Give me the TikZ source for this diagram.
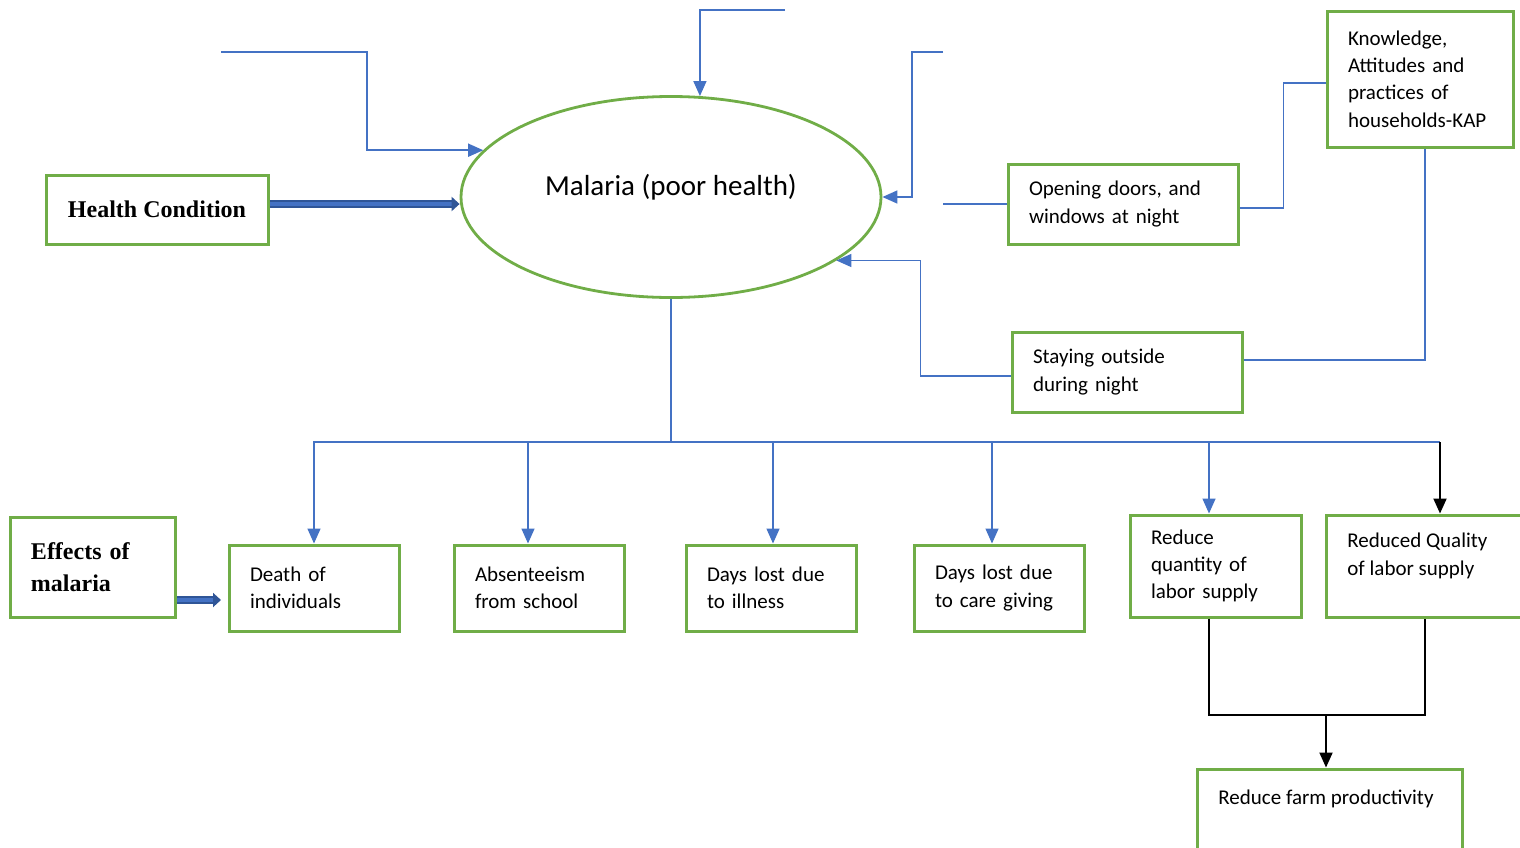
\documentclass[tikz,border=0pt]{standalone}
\usepackage{fontspec}
\setmainfont{Carlito}
\newfontfamily\timesbf{Liberation Serif}
\usetikzlibrary{positioning, shapes.geometric, arrows.meta}

\definecolor{boxgreen}{HTML}{70AD47}
\definecolor{linkblue}{HTML}{4472C4}
\definecolor{fatblue}{HTML}{2F5597}

\begin{document}
\begin{tikzpicture}[
    x=0.5pt, y=-0.5pt,
    box/.style={rectangle, draw=boxgreen, line width=1.5pt, inner xsep=10.5pt, inner ysep=0pt, align=left, font=\fontsize{10.5}{13.6}\selectfont},
    headbox/.style={box, align=center, font=\timesbf\bfseries\fontsize{12}{16}\selectfont},
    boxtext/.style={inner sep=0pt, align=left, anchor=north west, font=\fontsize{10.5}{13.6}\selectfont},
    flow/.style={draw=linkblue, line width=0.75pt},
    flowarrow/.style={flow, -{Triangle[length=7.5pt, width=6.5pt]}},
    blackline/.style={draw=black, line width=1pt},
    blackarrow/.style={blackline, -{Triangle[length=7.5pt, width=6.5pt]}},
    fatarrow/.style={draw=fatblue, line width=1pt, double=linkblue, double distance=1.6pt, -{Triangle[length=4pt, width=7pt]}}
]
\useasboundingbox (0,0) rectangle (1520,847);

% Central problem
\node[ellipse, draw=boxgreen, line width=1.4pt, minimum width=210pt, minimum height=100.5pt, inner sep=0pt] (malaria) at (671,197) {};
\node[font=\fontsize{14.5}{17}\selectfont] (malariatext) at (671,187) {Malaria (poor health)};

% Causes
\node[headbox, minimum width=111pt, minimum height=34.5pt] (health) at (157,209.5) {Health Condition};
\node[box, text width=94pt, minimum height=40pt] (opening) at (1123,204) {Opening doors, and\\windows at night};
\node[box, text width=72pt, minimum height=68pt] (knowledge) at (1420,79) {Knowledge,\\Attitudes and\\practices of\\households-KAP};
\node[box, text width=94pt, minimum height=40pt] (staying) at (1127,372) {Staying outside\\during night};

% Effects
\node[headbox, align=left, text width=61.5pt, minimum height=50pt] (effects) at (92.5,567) {Effects of\\malaria};
\node[box, text width=64pt, minimum height=43pt] (death) at (314,588) {Death of\\individuals};
\node[box, text width=64pt, minimum height=43pt, right=26pt of death] (absent) {Absenteeism\\from school};
\node[box, text width=64pt, minimum height=43pt, right=29.5pt of absent] (illness) {Days lost due\\to illness};
\node[box, text width=64pt, minimum height=43pt, right=27.5pt of illness] (care) {Days lost due\\to care giving};
\node[box, text width=64.5pt, minimum height=51pt] (qty) at (1215.5,566) {Reduce\\quantity of\\labor supply};
\node[box, minimum width=114pt, minimum height=51pt] (qual) at (1440,566) {};
\node[boxtext] (qualtext) at (1347,533) {Reduced Quality\\of labor supply};
\node[box, minimum width=132.5pt, minimum height=61pt] (farm) at (1329.5,830) {};
\node[boxtext] (farmtext) at (1218,790) {Reduce farm productivity};

% Free ends
\coordinate (inleft) at (221,52);
\coordinate (intop) at (785,10);
\coordinate (inright) at (943,52);
\coordinate (outopen) at (943,204);
\coordinate (hub) at (671,442);
\coordinate (merge) at (1326,715);
\coordinate (hcout) at ([yshift=2.75pt]health.east);
\coordinate (effout) at ([yshift=-16.5pt]effects.east);
\coordinate (effin) at (221,600);

% Arrows into malaria
\draw[fatarrow] (hcout) -- (hcout -| malaria.west);
\draw[flowarrow] (inleft) -- ++(146,0) |- (malaria.166);
\draw[flowarrow] (intop) -| (malaria.74);
\draw[flowarrow] (inright) -- ++(-31,0) |- (malaria.east);
\draw[flow] (opening.west) -- (outopen);
\draw[flow] ([yshift=-2pt]opening.east) -- ++(44,0) |- ([yshift=-2pt]knowledge.west);
\draw[flow] ([yshift=6pt]staying.east) -| ([xshift=2.5pt]knowledge.south);
\draw[flowarrow] ([yshift=-2pt]staying.west) -- ++(-90,0) |- (malaria.339);

% Arrows to effects
\draw[fatarrow] (effout) -- (effin);
\draw[flow] (malaria.south) -- (hub);
\draw[flowarrow] (hub) -| (death.north);
\draw[flowarrow] (hub) -| ([xshift=-5.5pt]absent.north);
\draw[flowarrow] (hub) -| ([xshift=1pt]illness.north);
\draw[flowarrow] (hub) -| ([xshift=-3.5pt]care.north);
\draw[flowarrow] (hub) -| ([xshift=-3.25pt]qty.north);
\draw[flow] (hub) -- (hub -| qual.north);
\draw[blackarrow] (hub -| qual.north) -- (qual.north);

% Labor supply to productivity
\draw[blackline] ([xshift=-3.25pt]qty.south) |- (merge) -| ([xshift=-7.5pt]qual.south);
\draw[blackarrow] (merge) -- (merge |- farm.north);

\end{tikzpicture}
\end{document}
